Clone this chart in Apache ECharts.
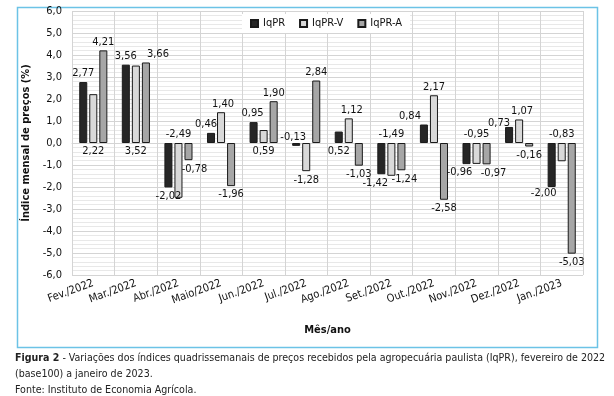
<!DOCTYPE html>
<html>
<head>
	<meta charset="utf-8">
	<title>IqPR</title>
	<script src="https://cdn.jsdelivr.net/npm/echarts@6/dist/echarts.min.js"></script>
	<style>
		body { margin: 0; background: #fff; }
		#wrap { position: relative; width: 614px; height: 396px; overflow: hidden; }
		#main { position: absolute; left: 0; top: 0; width: 614px; height: 396px; }
		.cap { position: absolute; left: 15px; font-family: "DejaVu Sans Condensed", "Liberation Sans", sans-serif; font-size: 11px; color: #222; white-space: nowrap; transform-origin: left top; }
	</style>
</head>
<body>
<div id="wrap">
	<div id="main"></div>
	<div class="cap" id="cap1" style="top:351px;"><b>Figura 2</b> - Variações dos índices quadrissemanais de preços recebidos pela agropecuária paulista (IqPR), fevereiro de 2022</div>
	<div class="cap" style="top:367px;">(base100) a janeiro de 2023.</div>
	<div class="cap" style="top:383px;">Fonte: Instituto de Economia Agrícola.</div>
</div>
<script type="text/javascript">
	// dados
	var meses = ['Fev./2022', 'Mar./2022', 'Abr./2022', 'Maio/2022', 'Jun./2022', 'Jul./2022',
		'Ago./2022', 'Set./2022', 'Out./2022', 'Nov./2022', 'Dez./2022', 'Jan./2023'];
	var iqpr  = [2.77, 3.56, -2.02, 0.46, 0.95, -0.13, 0.52, -1.42, 0.84, -0.96, 0.73, -2.00];
	var iqprV = [2.22, 3.52, -2.49, 1.40, 0.59, -1.28, 1.12, -1.49, 2.17, -0.95, 1.07, -0.83];
	var iqprA = [4.21, 3.66, -0.78, -1.96, 1.90, 2.84, -1.03, -1.24, -2.58, -0.97, -0.16, -5.03];

	// onde fica o rotulo de cada barra (como no grafico original)
	var posR = ['top', 'top', 'bottom', 'top', 'top', 'top', 'bottom', 'bottom', 'top', 'bottom', 'top', 'bottom'];
	var posV = ['bottom', 'bottom', 'top', 'top', 'bottom', 'bottom', 'top', 'top', 'top', 'top', 'top', 'top'];
	var posA = ['top', 'top', 'bottom', 'bottom', 'top', 'top', 'bottom', 'bottom', 'bottom', 'bottom', 'bottom', 'bottom'];
	// deslocamento dos rotulos arrastados a mao
	var offR = [[0, 0], [0, 0], [0, 0], [-5, 0], [-1, 0], [-3, 3], [0, 0], [-6, 0], [-14, 0], [-7, 0], [-10, 5], [-8, -2]];
	var offV = [[0, 0], [0, 0], [0, 0], [2, 0], [0, 0], [0, 0], [3, 0], [0, 0], [0, 0], [0, 0], [3, 0], [0, 0]];
	var offA = [[0, 0], [12, 0], [6, 0], [0, 0], [0, 0], [0, 0], [0, 0], [3, 0], [0, 0], [7, 0], [0, 0], [0, 0]];

	var fonte = '"DejaVu Sans Condensed", "Liberation Sans", sans-serif';

	function virgula(v, casas) {
		return v.toFixed(casas).replace('.', ',');
	}

	function monta(nome, valores, pos, off, cor) {
		return {
			name: nome,
			type: 'bar',
			barGap: '25%',
			barCategoryGap: '34%',
			itemStyle: { color: cor, borderColor: '#1a1a1a', borderWidth: 1 },
			label: {
				show: true, distance: 3, fontSize: 11, fontFamily: fonte, color: '#111',
				formatter: function (p) { return virgula(p.value, 2); }
			},
			data: valores.map(function (v, i) {
				return { value: v, label: { position: pos[i], offset: off[i] } };
			})
		};
	}

	var myChart = echarts.init(document.getElementById('main'));
	var option = {
		animation: false,
		textStyle: { fontFamily: fonte },
		graphic: [{
			type: 'rect', left: 15, top: 5, z: -10,
			shape: { width: 580, height: 340 },
			style: { fill: 'none', stroke: '#6cc3e6', lineWidth: 1.5 }
		}],
		legend: {
			top: 14, left: 242,
			icon: 'rect',
			itemWidth: 7, itemHeight: 7, itemGap: 14,
			backgroundColor: '#fff', padding: [4, 8],
			textStyle: { fontSize: 11, color: '#111', fontFamily: fonte },
			data: ['IqPR', 'IqPR-V', 'IqPR-A']
		},
		grid: { left: 72, right: 31, top: 11, bottom: 121 },
		xAxis: {
			type: 'category',
			data: meses,
			name: 'Mês/ano',
			nameLocation: 'middle',
			nameGap: 50,
			nameTextStyle: { fontWeight: 'bold', fontSize: 11, color: '#111' },
			axisLine: { lineStyle: { color: '#d4d4d4' } },
			axisTick: { show: false },
			splitLine: { show: true, interval: 0, lineStyle: { color: '#d4d4d4' } },
			axisLabel: { interval: 0, rotate: 20, fontSize: 11, color: '#111', margin: 8 }
		},
		yAxis: {
			type: 'value',
			min: -6, max: 6, interval: 1,
			name: 'Índice mensal de preços (%)',
			nameLocation: 'middle',
			nameGap: 39,
			nameTextStyle: { fontWeight: 'bold', fontSize: 11, color: '#111' },
			axisLine: { show: false },
			axisTick: { show: false },
			axisLabel: { fontSize: 11, color: '#111', margin: 10, formatter: function (v) { return virgula(v, 1); } },
			splitLine: { lineStyle: { color: '#d4d4d4' } },
			minorTick: { show: false, splitNumber: 5 },
			minorSplitLine: { show: true, lineStyle: { color: '#e8e8e8' } }
		},
		series: [
			monta('IqPR', iqpr, posR, offR, '#262626'),
			monta('IqPR-V', iqprV, posV, offV, '#d9d9d9'),
			monta('IqPR-A', iqprA, posA, offA, '#a6a6a6')
		]
	};
	myChart.setOption(option);

	// a legenda longa cabe ate x=605 no original
	var c1 = document.getElementById('cap1');
	var esc = 590 / c1.offsetWidth;
	if (esc < 1) {
		var caps = document.querySelectorAll('.cap');
		for (var k = 0; k < caps.length; k++) caps[k].style.transform = 'scaleX(' + esc + ')';
	}
</script>
</body>
</html>
